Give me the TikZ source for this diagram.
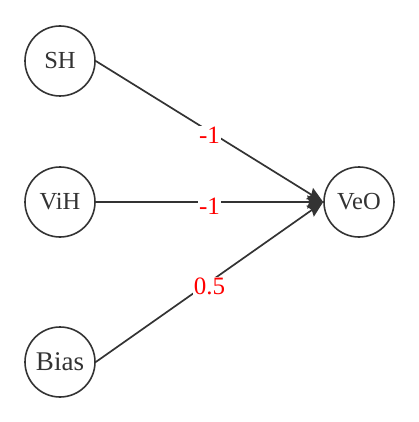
\documentclass[tikz,border=0pt]{standalone}
\usepackage{fontspec}
\setmainfont{Liberation Serif}
\usetikzlibrary{arrows.meta}
\definecolor{ink}{RGB}{51,51,51}

\begin{document}
\begin{tikzpicture}[x=1pt, y=-1pt, >={Stealth[length=16pt, width=13pt, inset=2pt]},
  neuron/.style={circle, draw=ink, line width=1.6pt, text=ink, minimum size=70pt,
                 inner sep=0pt, font=\fontsize{24.5}{28}\selectfont},
  wire/.style={->, draw=ink, line width=1.7pt},
  weight/.style={fill=white, text=red, inner sep=1pt, yshift=-4pt,
                 font=\fontsize{25}{28}\selectfont}]
  \useasboundingbox (0,0) rectangle (419,422);
  \node[neuron] (sh)   at (60,61)  {SH};
  \node[neuron] (vih)  at (60,202) {ViH};
  \node[neuron, font=\fontsize{27}{30}\selectfont] (bias) at (60,362) {Bias};
  \node[neuron] (veo)  at (359,202) {VeO};
  \draw[wire] (sh.east)   -- node[weight] {-1}  (veo.west);
  \draw[wire] (vih.east)  -- node[weight] {-1}  (veo.west);
  \draw[wire] (bias.east) -- node[weight] {0.5} (veo.west);
\end{tikzpicture}
\end{document}
